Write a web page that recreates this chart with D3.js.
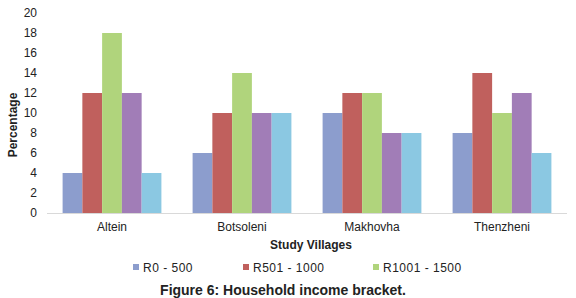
<!DOCTYPE html>
<html>
<head>
<meta charset="utf-8">
<script src="https://cdn.jsdelivr.net/npm/d3@7"></script>
<style>
  body { margin: 0; background: #fff; }
  svg { display: block; font-family: 'Liberation Sans', Arial, sans-serif; }
</style>
</head>
<body>
<div id="chart"></div>
<script>
// data
const villages = ['Altein', 'Botsoleni', 'Makhovha', 'Thenzheni'];
const seriesNames = ['R0 - 500', 'R501 - 1000', 'R1001 - 1500', 'R1501 - 2000', 'R2001+'];
const r0to500 = [4, 6, 10, 8];
const r501to1000 = [12, 10, 12, 14];
const r1001to1500 = [18, 14, 12, 10];
const r1501to2000 = [12, 10, 8, 12];
const r2001plus = [4, 10, 8, 6];
const legendNames = ['R0 - 500', 'R501 - 1000', 'R1001 - 1500'];
const yTicks = [0, 2, 4, 6, 8, 10, 12, 14, 16, 18, 20];

const seriesValues = [r0to500, r501to1000, r1001to1500, r1501to2000, r2001plus];
const colors = ['#8c9dcd', '#c0605d', '#b0d47c', '#a17db7', '#8bc8e2'];

const W = 576, H = 298;
const margin = { top: 13, right: 9, bottom: 85, left: 47 };

const svg = d3.select('#chart').append('svg')
    .attr('width', W).attr('height', H);

const x0 = d3.scaleBand().domain(villages)
    .range([margin.left, W - margin.right])
    .paddingInner(0.24).paddingOuter(0.12);
const x1 = d3.scaleBand().domain(d3.range(seriesNames.length))
    .range([0, x0.bandwidth()]);
const y = d3.scaleLinear().domain([0, 20]).range([H - margin.bottom, margin.top]);

// y tick labels (no axis line)
const yAxis = svg.append('g')
    .attr('transform', `translate(${margin.left - 6},0)`)
    .call(d3.axisLeft(y).tickValues(yTicks).tickSize(0).tickPadding(4));
yAxis.select('.domain').remove();
yAxis.selectAll('text').attr('font-size', '12px').attr('fill', '#222')
    .attr('font-family', "'Liberation Sans', Arial, sans-serif");

// bars
const groups = svg.selectAll('.grp').data(villages).enter().append('g')
    .attr('transform', d => `translate(${x0(d)},0)`);
groups.selectAll('rect')
    .data((v, i) => seriesValues.map((s, k) => ({ k, value: s[i] })))
    .enter().append('rect')
    .attr('x', d => x1(d.k))
    .attr('width', x1.bandwidth())
    .attr('y', d => y(d.value))
    .attr('height', d => y(0) - y(d.value))
    .attr('fill', d => colors[d.k]);

// baseline
svg.append('line')
    .attr('x1', margin.left).attr('x2', W - margin.right)
    .attr('y1', y(0) + 0.5).attr('y2', y(0) + 0.5)
    .attr('stroke', '#d9d9d9');

// category labels
const xAxis = svg.append('g')
    .attr('transform', `translate(0,${y(0)})`)
    .call(d3.axisBottom(x0).tickSize(0).tickPadding(9));
xAxis.select('.domain').remove();
xAxis.selectAll('text').attr('font-size', '12px').attr('fill', '#222')
    .attr('font-family', "'Liberation Sans', Arial, sans-serif");

// axis titles
svg.append('text')
    .attr('x', (margin.left + W - margin.right) / 2 + 4).attr('y', 249)
    .attr('text-anchor', 'middle').attr('font-size', '12px').attr('font-weight', 'bold')
    .attr('fill', '#222').text('Study Villages');
svg.append('text')
    .attr('transform', 'translate(17,125) rotate(-90)')
    .attr('text-anchor', 'middle').attr('font-size', '12px').attr('font-weight', 'bold')
    .attr('fill', '#222').text('Percentage');

// legend (only first three entries visible in the figure)
const legendX = [133, 243, 373];
const legend = svg.selectAll('.leg').data(legendNames).enter().append('g')
    .attr('transform', (d, i) => `translate(${legendX[i]},267)`);
legend.append('rect')
    .attr('x', 0).attr('y', -3).attr('width', 6).attr('height', 6)
    .attr('fill', (d, i) => colors[i]);
legend.append('text')
    .attr('x', 10).attr('y', 4.5)
    .attr('font-size', '12px').attr('fill', '#222').attr('letter-spacing', '0.5px')
    .text(d => d);

// caption
svg.append('text')
    .attr('x', 283).attr('y', 295)
    .attr('text-anchor', 'middle').attr('font-size', '14px').attr('font-weight', 'bold')
    .attr('fill', '#222').text('Figure 6: Household income bracket.');
</script>
</body>
</html>
